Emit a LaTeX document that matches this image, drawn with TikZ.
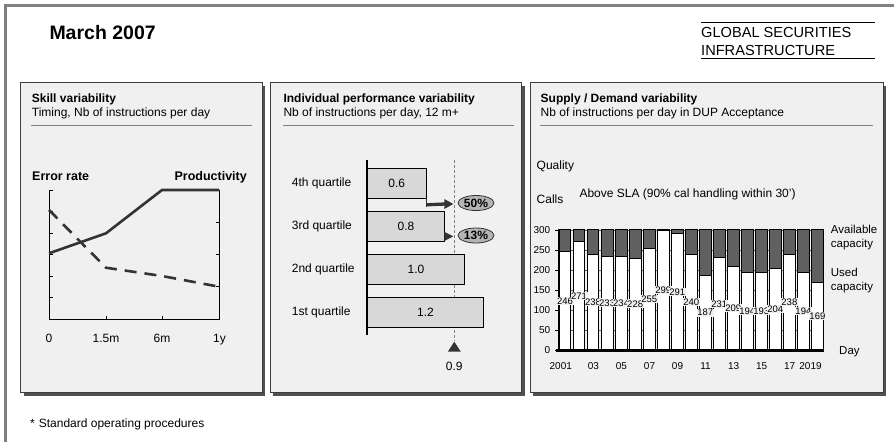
\documentclass[tikz,border=0pt]{standalone}
\usepackage{fontspec}
\setmainfont{Liberation Sans}
\usetikzlibrary{arrows.meta,shapes.geometric}
\definecolor{panelbg}{HTML}{F0F0F0}
\definecolor{framec}{HTML}{808080}
\definecolor{pborder}{HTML}{3C3C3C}
\definecolor{shadowc}{HTML}{505050}
\definecolor{sepgray}{HTML}{808080}
\definecolor{barfill}{HTML}{D8D8D8}
\definecolor{availc}{HTML}{606060}
\definecolor{ellfill}{HTML}{B4B4B4}
\definecolor{darkc}{HTML}{333333}
\tikzset{
  ttl/.style={anchor=base west, inner sep=0pt, font=\fontsize{12}{14}\selectfont\bfseries},
  subt/.style={anchor=base west, inner sep=0pt, font=\fontsize{12}{14}\selectfont},
  lbl/.style={inner sep=0pt, font=\fontsize{12}{14}\selectfont},
  boldlbl/.style={inner sep=0pt, font=\fontsize{12.5}{14}\selectfont\bfseries},
  small/.style={inner sep=0pt, font=\fontsize{10}{12}\selectfont},
  sidelbl/.style={inner sep=0pt, anchor=base west, font=\fontsize{11.5}{13}\selectfont},
  blabel/.style={inner sep=0.6pt, fill=panelbg, font=\fontsize{9.5}{11}\selectfont},
  sepline/.style={draw=sepgray, line width=1pt},
  panelbox/.style={draw=pborder, line width=0.9pt, fill=panelbg},
  qbar/.style={draw=black, line width=0.8pt, fill=barfill, anchor=north west, minimum height=30pt, inner sep=0pt, font=\fontsize{12}{14}\selectfont},
  pct/.style={ellipse, draw=darkc, line width=0.8pt, fill=ellfill, minimum width=36pt, minimum height=15pt, inner sep=0pt, font=\fontsize{12}{14}\selectfont\bfseries},
  prodline/.style={draw=darkc, line width=2.6pt},
  errline/.style={draw=darkc, line width=2.6pt, dash pattern=on 12pt off 8pt},
  axisline/.style={draw=black, line width=0.8pt},
}
\begin{document}
\begin{tikzpicture}[x=1pt,y=-1pt]
\useasboundingbox (0,0) rectangle (894,442);
\fill[white] (0,0) rectangle (894,442);
% outer frame
\draw[framec, line width=3pt] (5.5,442) -- (5.5,5.5) -- (894,5.5);

% header
\node[anchor=base west, inner sep=0pt, font=\fontsize{19.5}{22}\selectfont\bfseries] (date) at (49.3,39.3) {March 2007};
\node[anchor=base west, inner sep=0pt, font=\fontsize{14.6}{17}\selectfont] (gsi1) at (701,37.3) {GLOBAL SECURITIES};
\node[anchor=base west, inner sep=0pt, font=\fontsize{14.6}{17}\selectfont] (gsi2) at (701,55) {INFRASTRUCTURE};
\draw[black, line width=0.9pt] (701,22.7) -- (875,22.7);
\draw[black, line width=0.9pt] (701,58.7) -- (875,58.7);

% panels
\foreach \a/\b/\c/\d in {20.7/82.5/262/392.5, 270/82.5/521.5/392.5, 530/82.5/883/392.5} {
  \fill[shadowc] (\a+3,\b+3) rectangle (\c+3,\d+3);
  \draw[panelbox] (\a,\b) rectangle (\c,\d);
}

% ---------- Panel 1 ----------
\node[ttl] (t1) at (31.7,102.5) {Skill variability};
\node[subt] (s1) at (31.7,116) {Timing, Nb of instructions per day};
\draw[sepline] (31,125.7) -- (252,125.7);

\node[boldlbl, anchor=base west] (er) at (32,180) {Error rate};
\node[boldlbl, anchor=base east] (pr) at (247,180) {Productivity};

\draw[axisline] (49,190) -- (49,319) -- (219,319) -- (219,190);
\foreach \yy in {190,211.5,233,254.5,276,297.5} \draw[axisline] (49,\yy) -- (52.5,\yy);
\foreach \yy in {222.25,254.5,286.75} \draw[axisline] (219,\yy) -- (215.5,\yy);
\foreach \xx in {106,162} \draw[axisline] (\xx,319) -- (\xx,315.5);

\draw[errline] (49,210) -- (106,267.7) -- (162,276) -- (219,286.7);
\draw[prodline] (49,253.3) -- (106,233.3) -- (162,190) -- (219,190);

\node[lbl, anchor=base] (x0) at (49,342.3) {0};
\node[lbl, anchor=base] (x1) at (106,342.3) {1.5m};
\node[lbl, anchor=base] (x2) at (162,342.3) {6m};
\node[lbl, anchor=base] (x3) at (219.5,342.3) {1y};

% ---------- Panel 2 ----------
\node[ttl] (t2) at (283.3,102.5) {Individual performance variability};
\node[subt] (s2) at (283.3,116) {Nb of instructions per day, 12 m+};
\draw[sepline] (283,125.7) -- (514,125.7);

\draw[sepgray, line width=1pt, dash pattern=on 3pt off 2pt] (454.3,160) -- (454.3,341);

\node[qbar, minimum width=58.7pt] (q4) at (367,167.5) {0.6};
\node[qbar, minimum width=77.3pt] (q3) at (367,210.5) {0.8};
\node[qbar, minimum width=97.3pt] (q2) at (367,253.5) {1.0};
\node[qbar, minimum width=116.3pt] (q1) at (367,296.5) {1.2};
\draw[black, line width=2pt] (367,160) -- (367,335);

\node[lbl, anchor=base west] (l4) at (291.7,186.7) {4th quartile};
\node[lbl, anchor=base west] (l3) at (291.7,229.7) {3rd quartile};
\node[lbl, anchor=base west] (l2) at (291.7,272.7) {2nd quartile};
\node[lbl, anchor=base west] (l1) at (291.7,315.7) {1st quartile};

% 50% arrow
\coordinate (a50s) at ([yshift=-6.5pt]q4.south east);
\coordinate (a50e) at (453.3,204);
\draw[darkc, line width=1pt] (q4.south east) -- ([yshift=-9pt]q4.south east);
\draw[darkc, line width=3.3pt] (a50s) -- (445,204);
\fill[darkc] (444.3,199) -- (a50e) -- (444.3,209) -- cycle;
% 13% arrow
\fill[darkc] (444.3,231.8) -- (453.3,236.4) -- (444.3,241) -- cycle;

\node[pct] (e50) at (476,203) {50\%};
\node[pct] (e13) at (476,235.5) {13\%};

\fill[darkc] (447.8,351.7) -- (454.3,341.7) -- (460.8,351.7) -- cycle;
\node[lbl, anchor=base] (avg) at (454.3,370) {0.9};

% ---------- Panel 3 ----------
\node[ttl] (t3) at (540.5,102.5) {Supply / Demand variability};
\node[subt] (s3) at (540.5,116) {Nb of instructions per day in DUP Acceptance};
\draw[sepline] (540,125.7) -- (873,125.7);

\node[lbl, anchor=base west] (qual) at (536.5,169.5) {Quality};
\node[lbl, anchor=base west] (calls) at (536.5,203.3) {Calls};
\node[lbl, anchor=base west] (sla) at (579.3,197.3) {Above SLA (90\% cal handling within 30’)};

% gridlines and y axis
\foreach \v in {50,100,150,200,250,300} {
  \draw[availc, line width=0.8pt] (558,350-0.4*\v) -- (823,350-0.4*\v);
}
\draw[black, line width=0.8pt] (558,229) -- (558,350);
\foreach \v in {0,50,100,150,200,250,300} {
  \draw[black, line width=0.8pt] (555,350-0.4*\v) -- (558,350-0.4*\v);
  \node[small, anchor=east] (yl\v) at (550.5,350-0.4*\v) {\v};
}

% bars
\foreach \v [count=\i] in {246,271,238,233,234,228,255,299,291,240,187,231,209,194,193,204,238,194,169} {
  \pgfmathsetmacro\xl{559.3+(\i-1)*14.02}
  \pgfmathsetmacro\xr{\xl+11.5}
  \pgfmathsetmacro\yt{350-0.4*\v}
  \fill[availc] (\xl,229) rectangle (\xr,\yt);
  \fill[white] (\xl,\yt) rectangle (\xr,350);
  \draw[black, line width=0.7pt] (\xl,229) rectangle (\xr,350);
  \draw[black, line width=0.7pt] (\xl,\yt) -- (\xr,\yt);
}
\foreach \v [count=\i] in {246,271,238,233,234,228,255,299,291,240,187,231,209,194,193,204,238,194,169} {
  \pgfmathsetmacro\xc{559.3+(\i-1)*14.02+5.75}
  \pgfmathsetmacro\ym{350-0.2*\v}
  \node[blabel] (bl\i) at (\xc,\ym) {\v};
}
\draw[black, line width=3pt] (556,350) -- (824,350);

% x labels
\foreach \lab/\xx in {2001/560.8, 03/593.4, 05/621.4, 07/649.5, 09/677.5, 11/705.5, 13/733.6, 15/761.6, 17/789.7, 2019/810.5} {
  \node[small, anchor=base] (xl\lab) at (\xx,369) {\lab};
}

\node[sidelbl] (av1) at (830.7,233) {Available};
\node[sidelbl] (av2) at (830.7,247) {capacity};
\node[sidelbl] (us1) at (830.7,276.5) {Used};
\node[sidelbl] (us2) at (830.7,290.5) {capacity};
\node[sidelbl] (day) at (839,354) {Day};

% footnote
\node[anchor=base west, inner sep=0pt, font=\fontsize{12}{14}\selectfont] (fn) at (30,427) {*\hspace{4pt}Standard operating procedures};
\end{tikzpicture}
\end{document}
